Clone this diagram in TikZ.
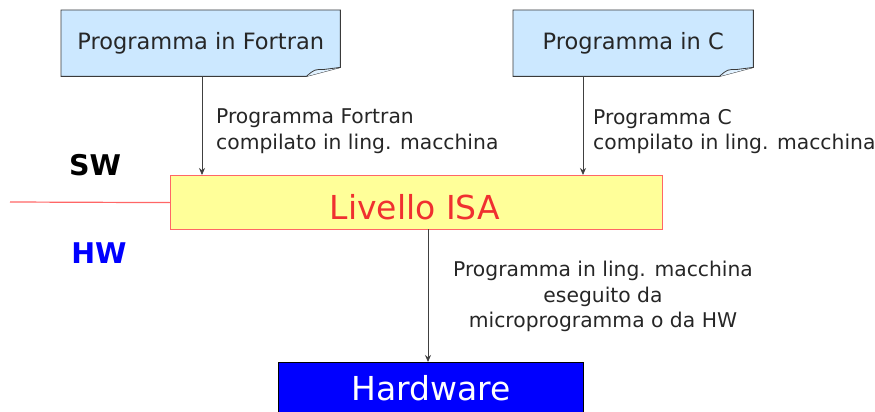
\documentclass[tikz,border=0pt]{standalone}
\usepackage{fontspec}
\setmainfont{DejaVu Sans}
\usetikzlibrary{arrows.meta,calc}
\definecolor{notefill}{HTML}{CCE8FF}
\definecolor{noteline}{HTML}{3A3A3A}
\definecolor{isafill}{HTML}{FFFF99}
\definecolor{isaline}{HTML}{FF6666}
\definecolor{isatext}{HTML}{F03030}
\definecolor{hwblue}{HTML}{0000FF}
\tikzset{
  x=1pt, y=1pt,
  note/.style={inner sep=0pt, font=\fontsize{22.5}{25}\selectfont, text=black!85},
  lab/.style={inner sep=0pt, align=left, anchor=north west, font=\fontsize{20.3}{25.5}\selectfont, text=black!85},
  conn/.style={draw=black!75, line width=0.8pt, -{Stealth[length=7pt,width=6pt]}},
  side/.style={inner sep=0pt, font=\bfseries\fontsize{28.5}{30}\selectfont}
}
\begin{document}
\begin{tikzpicture}
\useasboundingbox (0,0) rectangle (875,-412);
% source program notes with folded corner
\node[note, minimum width=279, minimum height=66, anchor=north west] (fortran) at (61,-10) {};
\node[note, minimum width=240, minimum height=66, anchor=north west] (cprog) at (513,-10) {};
\foreach \n in {fortran,cprog}{
  \filldraw[fill=notefill, draw=noteline, line width=0.9pt]
    (\n.north west) -- (\n.north east) -- ([yshift=9]\n.south east)
    -- ([xshift=-34]\n.south east) -- (\n.south west) -- cycle;
  \filldraw[fill=notefill!60, draw=noteline, line width=0.8pt]
    ([xshift=-34]\n.south east) .. controls ([xshift=-26,yshift=7]\n.south east) .. ([xshift=-16,yshift=7]\n.south east)
    -- ([yshift=9]\n.south east);
}
\node[note] (flabel) at (fortran.center) {Programma in Fortran};
\node[note] (clabel) at (cprog.center) {Programma in C};
% ISA level
\node[draw=isaline, fill=isafill, line width=1.2pt, minimum width=492, minimum height=54,
      inner sep=0pt, anchor=north west] (isa) at (170,-175) {};
\node[text=isatext, font=\fontsize{33}{36}\selectfont, inner sep=0pt] (isalab) at (415,-207) {Livello ISA};
% SW / HW boundary
\coordinate (edge) at (10,-202);
\draw[isaline, line width=1.2pt] (edge) -- (isa.west);
\node[side, text=black] (sw) at (95,-165) {SW};
\node[side, text=hwblue] (hw) at (99,-253) {HW};
% hardware
\node[draw=black, fill=hwblue, line width=1.2pt, minimum width=305, minimum height=60,
      inner sep=0pt, anchor=north west] (hardware) at (278,-362) {};
\node[text=white, font=\fontsize{33}{36}\selectfont, inner sep=0pt] (hwlab) at (431,-388) {Hardware};
% connectors
\coordinate (fstart) at (202,-76);
\coordinate (cstart) at (583,-76);
\coordinate (isaout) at (428,-229);
\draw[conn] (fstart) -- (fstart |- isa.north);
\draw[conn] (cstart) -- (cstart |- isa.north);
\draw[conn] (isaout) -- (isaout |- hardware.north);
% connector labels
\node[lab] (flab) at (216,-109) {Programma Fortran\\compilato in ling. macchina};
\node[lab] (clab) at (593,-109) {Programma C\\compilato in ling. macchina};
\node[lab, align=center, anchor=north] (hlab) at (603,-261) {Programma in ling. macchina\\eseguito da\\microprogramma o da HW};
\end{tikzpicture}
\end{document}
